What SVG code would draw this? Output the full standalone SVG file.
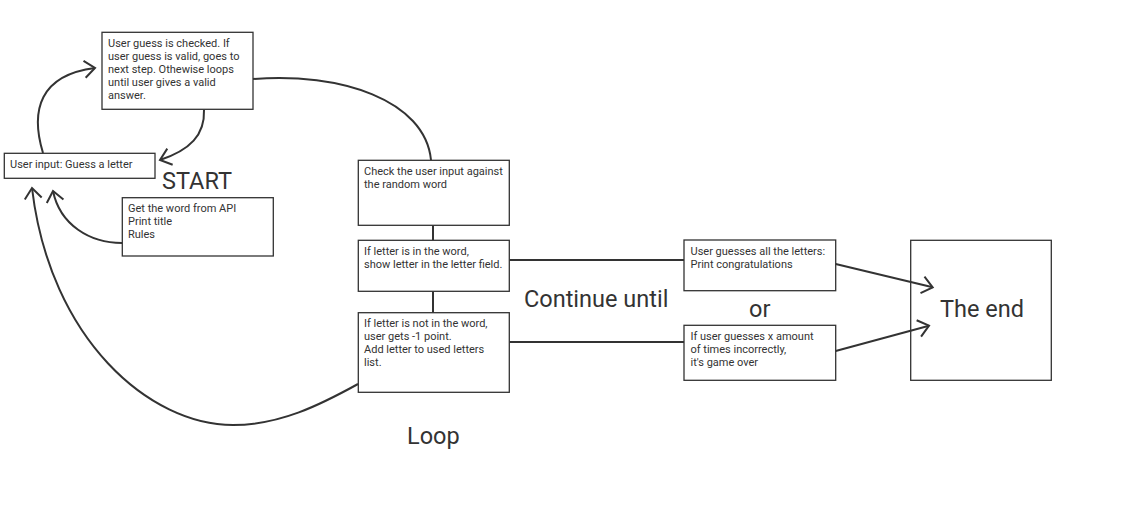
<svg xmlns="http://www.w3.org/2000/svg" width="1148" height="519" viewBox="0 0 1148 519">
<style>
.box{fill:#fff;stroke:#333;stroke-width:1.3}
.t{font-family:Roboto,"Liberation Sans",sans-serif;font-size:11px;fill:#333}
.big{font-family:Roboto,"Liberation Sans",sans-serif;font-size:23.5px;fill:#333}
.c{fill:none;stroke:#333;stroke-width:2}
</style>
<defs>
<marker id="arr" markerUnits="userSpaceOnUse" markerWidth="30" markerHeight="30" viewBox="-15 -15 30 30" refX="0" refY="0" orient="auto">
<path d="M-10.5,-8.5 L0,0 L-10.5,8.5" fill="none" stroke="#333" stroke-width="2"/>
</marker>
</defs>
<rect width="1148" height="519" fill="#fff"/>
<g id="node-check">
<rect class="box" x="102" y="32.3" width="151" height="77"/>
<text class="t"><tspan x="108" y="47">User guess is checked. If</tspan><tspan x="108" y="60">user guess is valid, goes to</tspan><tspan x="108" y="73">next step. Othewise loops</tspan><tspan x="108" y="86">until user gives a valid</tspan><tspan x="108" y="99">answer.</tspan></text>
</g>
<g id="node-input">
<rect class="box" x="4.3" y="153.3" width="150.7" height="25"/>
<text class="t" x="10" y="167.5">User input: Guess a letter</text>
</g>
<g id="node-start-label">
<text class="big" x="162" y="189">START</text>
</g>
<g id="node-init">
<rect class="box" x="122.3" y="197.7" width="151" height="58.3"/>
<text class="t"><tspan x="128" y="212">Get the word from API</tspan><tspan x="128" y="225">Print title</tspan><tspan x="128" y="238">Rules</tspan></text>
</g>
<g id="node-compare">
<rect class="box" x="358.3" y="160.3" width="151" height="65"/>
<text class="t"><tspan x="364" y="175">Check the user input against</tspan><tspan x="364" y="188">the random word</tspan></text>
</g>
<g id="node-in-word">
<rect class="box" x="358.3" y="240.3" width="151" height="51"/>
<text class="t"><tspan x="364" y="255">If letter is in the word,</tspan><tspan x="364" y="268">show letter in the letter field.</tspan></text>
</g>
<g id="node-not-in-word">
<rect class="box" x="358.3" y="312.7" width="151" height="79.6"/>
<text class="t"><tspan x="364" y="327">If letter is not in the word,</tspan><tspan x="364" y="340">user gets -1 point.</tspan><tspan x="364" y="353">Add letter to used letters</tspan><tspan x="364" y="366">list.</tspan></text>
</g>
<g id="node-win">
<rect class="box" x="684" y="240" width="151.7" height="50.7"/>
<text class="t"><tspan x="690.5" y="255">User guesses all the letters:</tspan><tspan x="690.5" y="268">Print congratulations</tspan></text>
</g>
<g id="node-lose">
<rect class="box" x="684" y="325.3" width="151.7" height="55"/>
<text class="t"><tspan x="690.5" y="340">If user guesses x amount</tspan><tspan x="690.5" y="353">of times incorrectly,</tspan><tspan x="690.5" y="366">it's game over</tspan></text>
</g>
<g id="node-end">
<rect class="box" x="910.7" y="240.3" width="140.6" height="140"/>
<text class="big" x="940" y="317">The end</text>
</g>
<g id="labels">
<text class="big" x="524" y="307">Continue until</text>
<text class="big" x="749" y="317">or</text>
<text class="big" x="407" y="444">Loop</text>
</g>
<g id="connectors">
<path class="c" d="M43,153 C30,110 40,75 95,68" marker-end="url(#arr)"/>
<path class="c" d="M204,110 C205,135 190,150 160,160" marker-end="url(#arr)"/>
<path class="c" d="M122,243 C90,243 60,225 53,191" marker-end="url(#arr)"/>
<path class="c" d="M358,384 C320,405 280,425 233,425 C150,425 50,340 32,188" marker-end="url(#arr)"/>
<path class="c" d="M253,79 C340,72 425,100 431,160"/>
<path class="c" d="M433,225.5 L433,240"/>
<path class="c" d="M433,291.5 L433,312.5"/>
<path class="c" d="M509.5,260 L684,260"/>
<path class="c" d="M509.5,342 L684,342"/>
<path class="c" d="M835.7,264 L932.7,287.3" marker-end="url(#arr)"/>
<path class="c" d="M835.7,351 L929,325.7" marker-end="url(#arr)"/>
</g>
</svg>
